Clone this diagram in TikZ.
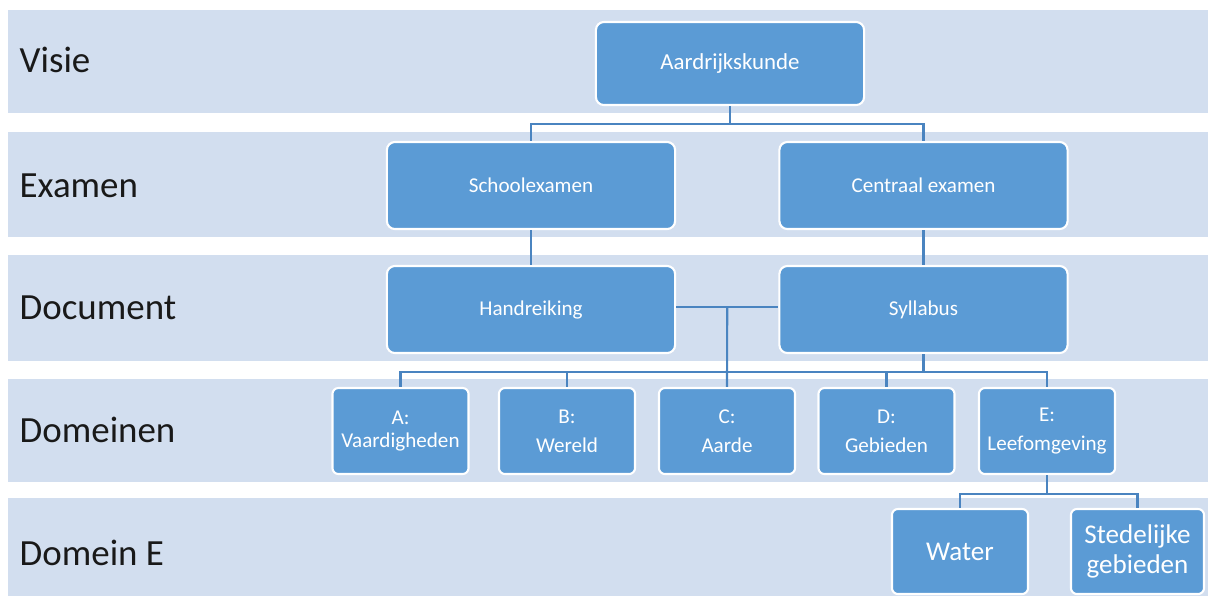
\documentclass[tikz,border=0pt]{standalone}
\usepackage{fontspec}
\setmainfont{Carlito}
\usepackage{tikz}
\usetikzlibrary{positioning, calc}

\definecolor{bandblue}{HTML}{D2DEEF}
\definecolor{boxblue}{HTML}{5B9BD5}
\definecolor{linkblue}{HTML}{4A84C0}

\tikzset{
    unit/.style={rectangle, rounded corners=0.08cm, fill=boxblue, draw=white, line width=0.6pt,
        text=white, align=center, inner sep=0pt, font=\fontsize{6}{7.5}\selectfont},
    bigunit/.style={unit, minimum width=2.88cm, minimum height=0.87cm},
    domunit/.style={unit, minimum width=1.36cm, minimum height=0.86cm, rounded corners=0.06cm},
    leafunit/.style={unit, minimum height=0.85cm, rounded corners=0.06cm, font=\fontsize{7.7}{8.6}\selectfont},
    level/.style={anchor=mid west, inner sep=0pt, text=black!90, font=\fontsize{10.5}{12}\selectfont},
    link/.style={draw=linkblue, line width=0.6pt}
}

\begin{document}
\begin{tikzpicture}[x=0.01cm, y=-0.01cm]
    \useasboundingbox (0,0) rectangle (1208,596);

    % bands with their labels
    \foreach \t/\b/\y/\n/\lab in {10/113/64/visie/Visie, 132/237/189/examen/Examen,
            255/361/311/document/Document, 379/482/434/domeinen/Domeinen, 498/596/557/domeinE/Domein E} {
        \fill[bandblue] (8,\t) rectangle (1208,\b);
        \node[level] (l-\n) at (19,\y) {\lab};
    }

    % boxes
    \node[unit, minimum width=2.68cm, minimum height=0.83cm, font=\fontsize{6.5}{8}\selectfont] (aard) at (730,63.5) {Aardrijkskunde};
    \node[bigunit] (school) at (531,185.5) {Schoolexamen};
    \node[bigunit] (central) at (923.5,185.5) {Centraal examen};
    \node[bigunit] (hand) at (531,309.5) {Handreiking};
    \node[bigunit] (syll) at (923.5,309.5) {Syllabus};

    \node[domunit, font=\fontsize{6}{6.8}\selectfont] (domA) at (400.5,431) {A:\\Vaardigheden};
    \foreach \n/\x/\txt in {B/567/{B:\\[0.3ex]Wereld}, C/727/{C:\\[0.3ex]Aarde}, D/886.5/{D:\\[0.3ex]Gebieden}, E/1047/{E:\\[0.3ex]Leefomgeving}}
        \node[domunit] (dom\n) at (\x,431) {\txt};

    \node[leafunit, minimum width=1.36cm] (water) at (960,551.5) {Water};
    \node[leafunit, minimum width=1.33cm] (sted) at (1137.5,551.5) {Stedelijke\\gebieden};

    % connectors
    \draw[link] (aard.south) -- ++(0,18) coordinate (bus1);
    \draw[link] (bus1) -| (school.north);
    \draw[link] (bus1) -| (central.north);
    \draw[link] (school.south) -- (hand.north);
    \draw[link] (central.south) -- (syll.north);
    \draw[link] ([yshift=0.025cm]hand.east) -- coordinate[midway] (hs) ([yshift=0.025cm]syll.west);
    \draw[link] (hs) -- (domC.north);
    \draw[link] (syll.south) -- ++(0,18) coordinate (bus2);
    \foreach \n in {A,B,C,D,E}
        \draw[link] (bus2) -| (dom\n.north);
    \draw[link] (domE.south) -- ++(0,19) coordinate (bus3);
    \draw[link] (bus3) -| (water.north);
    \draw[link] (bus3) -| (sted.north);
\end{tikzpicture}
\end{document}
